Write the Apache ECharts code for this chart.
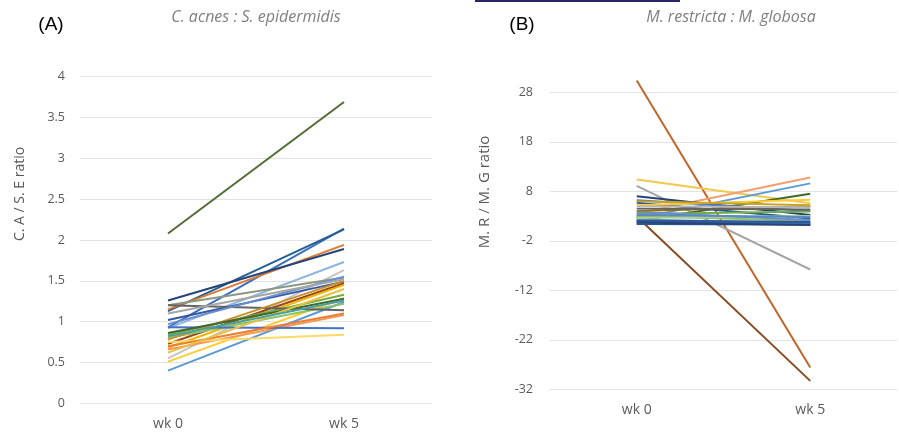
<!DOCTYPE html>
<html><head><meta charset="utf-8">
<script src="https://cdn.jsdelivr.net/npm/echarts@6/dist/echarts.min.js"></script>
<style>html,body{margin:0;padding:0;background:#fff}#c{width:899px;height:435px}</style>
</head><body><div id="c"></div>
<script>
const categories = ['wk 0', 'wk 5'];
const ticksA = [0, 0.5, 1, 1.5, 2, 2.5, 3, 3.5, 4];
const ticksB = [-32, -22, -12, -2, 8, 18, 28];

// Panel A: C. acnes : S. epidermidis ratio per subject
const aWk0 = [2.08, 0.93, 1.13, 1.15, 1.26, 0.92, 0.55, 1.20, 1.02, 0.73, 0.68, 0.84, 0.51, 0.40, 0.80, 1.20, 0.66, 0.93, 0.75, 0.78, 0.97, 0.86, 0.70, 1.10, 0.62, 0.82];
const aWk5 = [3.69, 2.14, 2.13, 1.94, 1.89, 1.73, 1.63, 1.54, 1.49, 1.47, 1.45, 1.33, 1.29, 1.24, 1.22, 1.14, 1.08, 0.92, 0.84, 1.50, 1.55, 1.28, 1.10, 1.52, 1.40, 1.26];
// Panel B: M. restricta : M. globosa ratio per subject
const bWk0 = [30.4, 2.9, 9.1, 10.4, 3.5, 2.5, 2.0, 7.0, 6.2, 5.7, 5.2, 4.0, 3.4, 3.0, 2.3, 1.9, 1.4, 1.5, 4.5, 2.6, 3.8, 1.7, 5.0, 6.0, 3.2, 2.1];
const bWk5 = [-27.6, -30.3, -7.8, 5.6, 10.8, 9.6, 7.5, 3.2, 4.0, 2.5, 6.3, 5.0, 3.9, 2.0, 1.6, 1.4, 1.3, 1.5, 4.3, 3.0, 2.2, 1.2, 4.8, 5.2, 2.8, 1.8];

const paletteA = ['#4e6e35','#3b6fc0','#255e91','#e07a30','#264478','#8fb5dc','#c4c4c4','#8a9a80','#335aa1','#9e480e','#f0b400','#70ad47','#ffcd33','#5b9bd5','#8cc168','#636363','#f1975a','#4472c4','#ffd966','#c9902a','#698ed0','#43682b','#ed7d31','#a5a5a5','#e8c040','#4aa0a0'];
const paletteB = ['#c0652a','#8a4a20','#a5a5a5','#f2c94c','#f1a070','#5b9bd5','#43682b','#264478','#4472c4','#255e91','#ffcd33','#997300','#70ad47','#8cc168','#7cafdd','#335aa1','#1f3864','#2e75b6','#636363','#a9d18e','#698ed0','#264478','#b7b7b7','#c9a227','#5a8ac0','#2f5597'];

const chart = echarts.init(document.getElementById('c'), null, {renderer: 'canvas'});
const gray = '#595959';
const font = 'Open Sans';
const series = [];
aWk0.forEach((v, i) => series.push({
  type: 'line', xAxisIndex: 0, yAxisIndex: 0, data: [v, aWk5[i]],
  showSymbol: false, symbol: 'none', silent: true,
  lineStyle: {width: 2, color: paletteA[i % paletteA.length]}
}));
bWk0.forEach((v, i) => series.push({
  type: 'line', xAxisIndex: 1, yAxisIndex: 1, data: [v, bWk5[i]], clip: false,
  showSymbol: false, symbol: 'none', silent: true,
  lineStyle: {width: 2, color: paletteB[i % paletteB.length]}
}));

function xAx(idx) {
  return {type: 'category', gridIndex: idx, data: categories, boundaryGap: true,
    axisLine: {show: false}, axisTick: {show: false},
    axisLabel: {color: gray, fontSize: 14, fontFamily: font, margin: 14}};
}
chart.setOption({
  animation: false,
  grid: [
    {left: 80, right: 467, top: 76.7, bottom: 31.7},
    {left: 550, right: 2, top: 92.3, bottom: 45.7}
  ],
  xAxis: [xAx(0), xAx(1)],
  yAxis: [
    {type: 'value', gridIndex: 0, min: ticksA[0], max: ticksA[ticksA.length - 1], interval: 0.5,
      axisLine: {show: false}, axisTick: {show: false},
      splitLine: {lineStyle: {color: '#e3e3e3', width: 1}},
      axisLabel: {color: gray, fontSize: 12.5, fontFamily: font, margin: 15}},
    {type: 'value', gridIndex: 1, min: ticksB[0], max: ticksB[ticksB.length - 1], interval: 10,
      axisLine: {show: false}, axisTick: {show: false},
      splitLine: {lineStyle: {color: '#e3e3e3', width: 1}},
      axisLabel: {color: gray, fontSize: 12.5, fontFamily: font, margin: 17}}
  ],
  graphic: [
    {type: 'rect', shape: {x: 475, y: 0, width: 205, height: 2}, style: {fill: '#26266e'}},
    {type: 'text', x: 51, y: 25, style: {text: '(A)', fontSize: 19, fontFamily: 'Liberation Sans', fill: '#000', textAlign: 'center', textVerticalAlign: 'middle'}},
    {type: 'text', x: 522, y: 25, style: {text: '(B)', fontSize: 19, fontFamily: 'Liberation Sans', fill: '#000', textAlign: 'center', textVerticalAlign: 'middle'}},
    {type: 'text', x: 256, y: 17, style: {text: 'C. acnes : S. epidermidis', fontSize: 16, fontStyle: 'italic', fontFamily: font, fill: '#7f7f7f', textAlign: 'center', textVerticalAlign: 'middle'}},
    {type: 'text', x: 731, y: 17, style: {text: 'M. restricta : M. globosa', fontSize: 16, fontStyle: 'italic', fontFamily: font, fill: '#7f7f7f', textAlign: 'center', textVerticalAlign: 'middle'}},
    {type: 'text', x: 20, y: 194, rotation: Math.PI / 2, style: {text: 'C. A / S. E ratio', fontSize: 14, fontFamily: font, fill: gray, textAlign: 'center', textVerticalAlign: 'middle'}},
    {type: 'text', x: 485, y: 192, rotation: Math.PI / 2, style: {text: 'M. R / M. G ratio', fontSize: 15, fontFamily: font, fill: gray, textAlign: 'center', textVerticalAlign: 'middle'}}
  ],
  series: series
});
</script></body></html>
